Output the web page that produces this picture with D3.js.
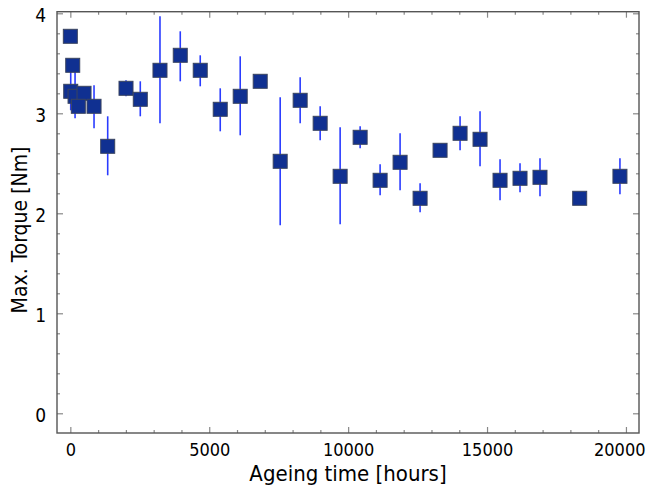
<!DOCTYPE html>
<html>
<head>
<meta charset="utf-8">
<script src="https://cdn.jsdelivr.net/npm/d3@7"></script>
<style>
  body { margin: 0; background: #fff; }
  svg text { font-family: "DejaVu Sans Condensed", "Liberation Sans", sans-serif; fill: #000; }
  .axis path.domain { display: none; }
  .axis line { stroke: #888; stroke-width: 1.2; }
</style>
</head>
<body>
<div id="chart"></div>
<script>
'use strict';

// ageing time [hours]
const hours = [0, 86, 14, 170, 493, 288, 853, 1345, 2004, 2518, 3227, 3957, 4676,
  5396, 6115, 6835, 7554, 8273, 8993, 9712, 10432, 11151, 11870, 12590, 13309,
  14029, 14748, 15468, 16187, 16906, 18335, 19784];
// max. torque [Nm]
const torque = [3.77, 3.48, 3.22, 3.17, 3.20, 3.07, 3.07, 2.67, 3.25, 3.14, 3.43, 3.58, 3.43,
  3.04, 3.17, 3.32, 2.52, 3.13, 2.90, 2.37, 2.76, 2.33, 2.51, 2.15, 2.63,
  2.80, 2.74, 2.33, 2.35, 2.36, 2.15, 2.37];
// error bar limits (null = none drawn)
const errLow = [null, null, 3.03, 2.95, null, null, 2.85, 2.38, 3.17, 2.97, 2.90, 3.32, 3.27,
  2.82, 2.78, null, 1.88, 2.90, 2.73, 1.89, 2.65, 2.18, 2.23, 2.01, null,
  2.63, 2.47, 2.13, 2.21, 2.17, null, 2.19];
const errHigh = [null, null, 3.42, 3.42, null, null, 3.28, 2.97, 3.33, 3.32, 3.97, 3.82, 3.58,
  3.25, 3.57, null, 3.16, 3.36, 3.07, 2.86, 2.87, 2.49, 2.80, 2.30, null,
  2.97, 3.02, 2.54, 2.50, 2.55, null, 2.55];

const xMajor = [0, 5000, 10000, 15000, 20000];
const yMajor = [0, 1, 2, 3, 4];

const data = hours.map((h, i) => ({ x: h, y: torque[i], lo: errLow[i], hi: errHigh[i] }));

const width = 648, height = 492;
const plot = { left: 57, right: 639, top: 11.7, bottom: 433 };

const x = d3.scaleLinear().domain([-480, 20470]).range([plot.left, plot.right]);
const y = d3.scaleLinear().domain([-0.197, 4.016]).range([plot.bottom, plot.top]);

const svg = d3.select('#chart').append('svg')
  .attr('width', width).attr('height', height);

const xMinor = d3.range(0, 20001, 1000).filter(v => v % 5000 !== 0);
const yMinor = d3.range(0, 40).map(i => i * 0.2).filter(v => v < 4.01 && Math.abs(v - Math.round(v)) > 1e-6);

function addAxis(axis, tx, ty) {
  return svg.append('g').attr('class', 'axis')
    .attr('transform', `translate(${tx},${ty})`)
    .call(axis);
}

// minor ticks, all four sides, pointing inward
addAxis(d3.axisBottom(x).tickValues(xMinor).tickSize(-3).tickFormat(''), 0, plot.bottom);
addAxis(d3.axisTop(x).tickValues(xMinor).tickSize(-3).tickFormat(''), 0, plot.top);
addAxis(d3.axisLeft(y).tickValues(yMinor).tickSize(-3).tickFormat(''), plot.left, 0);
addAxis(d3.axisRight(y).tickValues(yMinor).tickSize(-3).tickFormat(''), plot.right, 0);

// major ticks
const xb = addAxis(d3.axisBottom(x).tickValues(xMajor).tickSize(-6).tickFormat(d3.format('d')), 0, plot.bottom);
addAxis(d3.axisTop(x).tickValues(xMajor).tickSize(-6).tickFormat(''), 0, plot.top);
const yl = addAxis(d3.axisLeft(y).tickValues(yMajor).tickSize(-6).tickPadding(11).tickFormat(d3.format('d')), plot.left, 0);
addAxis(d3.axisRight(y).tickValues(yMajor).tickSize(-6).tickFormat(''), plot.right, 0);

xb.selectAll('text').attr('font-size', 18).attr('dy', '0.71em').attr('y', 10);
// keep the last label inside the page, as in the original
xb.selectAll('text').filter(d => d === 20000).attr('text-anchor', 'end').attr('x', 645 - x(20000));
yl.selectAll('text').attr('font-size', 19).attr('dy', '0.42em');
svg.selectAll('.axis text').style('font-family', '"DejaVu Sans Condensed", "Liberation Sans", sans-serif');

// frame
svg.append('rect')
  .attr('x', plot.left).attr('y', plot.top)
  .attr('width', plot.right - plot.left).attr('height', plot.bottom - plot.top)
  .attr('fill', 'none').attr('stroke', '#555').attr('stroke-width', 1.4);

// error bars
svg.append('g').selectAll('line').data(data.filter(d => d.lo !== null))
  .enter().append('line')
  .attr('x1', d => x(d.x)).attr('x2', d => x(d.x))
  .attr('y1', d => y(d.lo)).attr('y2', d => y(d.hi))
  .attr('stroke', '#2a3cff').attr('stroke-width', 1.6);

// markers
const s = 14;
svg.append('g').selectAll('rect').data(data)
  .enter().append('rect')
  .attr('x', d => x(d.x) - s / 2).attr('y', d => y(d.y) - s / 2)
  .attr('width', s).attr('height', s)
  .attr('fill', '#103091').attr('stroke', '#3a4460').attr('stroke-width', 1);

// axis titles
svg.append('text')
  .attr('x', (plot.left + plot.right) / 2).attr('y', 481)
  .attr('text-anchor', 'middle').attr('font-size', 22)
  .text('Ageing time [hours]');

svg.append('text')
  .attr('transform', `translate(27,230) rotate(-90)`)
  .attr('text-anchor', 'middle').attr('font-size', 21)
  .text('Max. Torque [Nm]');
</script>
</body>
</html>
